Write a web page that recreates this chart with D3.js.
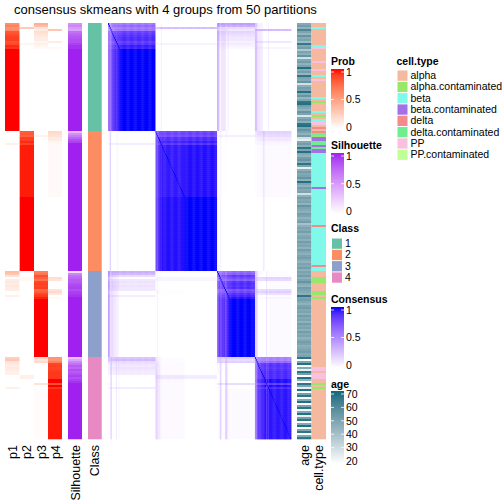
<!DOCTYPE html>
<html><head><meta charset="utf-8">
<script src="https://cdn.jsdelivr.net/npm/d3@7"></script>
<style>body{margin:0;background:#fff}svg{display:block}text{font-family:"Liberation Sans",Arial,sans-serif;fill:#000}</style>
</head><body><svg id="c" width="504" height="504"></svg>
<script>
// ---------------- data ----------------
const classSizes = [54, 70, 43, 41];
const classLabels = ["1", "2", "3", "4"];
const classColors = ["#66C2A5", "#FC8D62", "#8DA0CB", "#E78AC3"];
const probNames = ["p1", "p2", "p3", "p4"];

const p1 = [
 .58,.65,.57,.6,.82,.85,.88,.9,.9,.84,.87,.95,.93,1,1,1,1,1,1,1,1,1,1,1,1,1,1,1,1,1,1,1,1,1,1,1,1,1,1,1,1,1,1,1,1,1,1,1,1,1,1,1,1,1,
 0,0,0,0,0,0,.08,0,0,0,0,0,0,0,0,0,0,0,0,0,0,0,0,0,0,0,0,0,0,0,0,0,0,0,0,0,0,0,0,0,0,0,0,0,0,0,0,0,0,0,0,0,0,0,0,0,0,0,0,0,0,0,0,0,0,0,0,0,0,0,
 .35,.3,.15,0,.1,.12,.1,.12,.1,.1,0,0,.08,0,0,0,0,0,0,0,0,0,0,0,0,0,0,0,0,0,0,0,0,0,0,0,0,0,0,0,0,0,0,
 .25,.3,.15,.12,.1,.12,.1,.08,.08,0,0,0,0,0,0,.08,0,0,0,0,0,0,0,0,0,0,0,0,0,0,0,0,0,0,0,0,0,0,0,0,0];
const p2 = [
 0,0,.28,0,0,0,0,0,0,0,.05,0,0,0,0,0,0,0,0,0,0,0,0,0,0,0,0,0,0,0,0,0,0,0,0,0,0,0,0,0,0,0,0,0,0,0,0,0,0,0,0,0,0,0,
 .8,.82,.78,.9,.9,.95,.88,.975,.975,.975,.975,.975,.975,.975,.975,.975,.975,.975,.975,.975,.975,.975,.975,.975,.975,.975,.975,.975,.975,.975,.975,.975,.975,1,1,1,1,1,1,1,1,1,1,1,1,1,1,1,1,1,1,1,1,1,1,1,1,1,1,1,1,1,1,1,1,1,1,1,1,1,
 0,0,0,.04,.04,0,0,0,0,0,0,0,0,0,0,0,0,0,0,0,0,0,0,0,0,0,0,0,0,0,0,0,0,0,0,0,0,0,0,0,0,0,0,
 0,0,0,0,0,0,0,0,0,.08,.08,0,0,0,0,0,0,0,0,0,0,0,0,0,0,0,0,0,0,0,0,0,0,0,0,0,0,0,0,0,0];
const p3 = [
 .42,.35,.15,.1,.18,.15,.12,.1,.1,.06,.08,.05,.03,0,0,0,0,0,0,0,0,0,0,0,0,0,0,0,0,0,0,0,0,0,0,0,0,0,0,0,0,0,0,0,0,0,0,0,0,0,0,0,0,0,
 0,0,.07,0,0,0,0,0,0,0,0,0,0,0,0,0,0,0,0,0,0,0,0,0,0,0,0,0,0,0,0,0,0,0,0,0,0,0,0,0,0,0,0,0,0,0,0,0,0,0,0,0,0,0,0,0,0,0,0,0,0,0,0,0,0,0,0,0,0,0,
 .65,.7,.85,.78,.71,.88,.9,.88,.9,.75,.8,.88,.92,.97,1,1,1,1,1,1,1,1,1,1,1,1,1,1,1,1,1,1,1,1,1,1,1,1,1,1,1,1,1,
 .2,.15,.2,0,0,0,0,0,0,0,0,0,0,.15,0,0,.02,.02,.02,.02,.02,.02,.02,.02,.02,.02,.02,.02,.02,.02,.02,.02,.02,.02,.02,.02,.02,.02,.02,.02,.02];
const p4 = [
 0,0,0,.3,0,0,0,0,0,.1,0,0,.04,0,0,0,0,0,0,0,0,0,0,0,0,0,0,0,0,0,0,0,0,0,0,0,0,0,0,0,0,0,0,0,0,0,0,0,0,0,0,0,0,0,
 .2,.18,.15,.1,.1,.05,.04,.025,.025,.025,.025,.025,.025,.025,.025,.025,.025,.025,.025,.025,.025,.025,.025,.025,.025,.025,.025,.025,.025,.025,.025,.025,.025,0,0,0,0,0,0,0,0,0,0,0,0,0,0,0,0,0,0,0,0,0,0,0,0,0,0,0,0,0,0,0,0,0,0,0,0,0,
 0,0,0,.18,.15,0,0,0,0,.15,.2,.12,0,.03,0,0,0,0,0,0,0,0,0,0,0,0,0,0,0,0,0,0,0,0,0,0,0,0,0,0,0,0,0,
 .55,.55,.65,.88,.9,.88,.9,.92,.92,.92,.92,1,1,.85,1,.92,.98,.98,.98,.98,.98,.98,.98,.98,.98,.98,.98,.98,.98,.98,.98,.98,.98,.98,.98,.98,.98,.98,.98,.98,.98];
const silhouette = [
 .55,.6,.5,.45,.7,.75,.8,.82,.85,.85,.9,.95,.95,1,1,1,1,1,1,1,1,1,1,1,1,1,1,1,1,1,1,1,1,1,1,1,1,1,1,1,1,1,1,1,1,1,1,1,1,1,1,1,1,1,
 .35,.55,.65,.75,.85,.9,1,1,1,1,1,1,1,1,1,1,1,1,1,1,1,1,1,1,1,1,1,1,1,1,1,1,1,1,1,1,1,1,1,1,1,1,1,1,1,1,1,1,1,1,1,1,1,1,1,1,1,1,1,1,1,1,1,1,1,1,1,1,1,1,
 .15,.6,.7,.75,.8,.8,.85,.88,.9,.85,.9,.92,.95,1,1,1,1,1,1,1,1,1,1,1,1,1,1,1,1,1,1,1,1,1,1,1,1,1,1,1,1,1,1,
 .3,.45,.6,.7,.8,.75,.85,.8,.85,.9,.85,.9,.95,1,1,1,1,1,1,1,1,1,1,1,1,1,1,1,1,1,1,1,1,1,1,1,1,1,1,1,1];
const age = [
 48,52,45,60,50,44,55,47,50,42,65,48,52,38,50,46,55,30,48,52,45,50,68,47,52,44,66,50,48,55,30,46,52,50,68,48,55,44,50,66,68,52,48,45,55,50,28,48,52,46,66,68,50,55,
 50,45,52,30,25,48,52,46,66,50,68,48,45,52,55,48,66,50,25,46,52,48,50,55,46,68,50,45,52,48,50,30,46,52,48,50,45,55,50,48,46,52,50,45,48,52,40,46,50,48,52,45,48,50,46,52,48,50,45,52,48,46,50,52,48,45,50,48,52,46,
 50,48,52,46,50,55,48,45,52,50,48,46,66,50,52,48,45,50,52,48,50,46,52,48,50,45,52,48,50,46,52,48,50,45,48,52,50,46,48,50,52,48,50,
 66,20,50,68,22,48,25,66,52,20,68,45,22,66,50,25,68,20,52,66,22,48,68,20,50,66,22,48,68,25,52,66,20,48,68,22,50,66,20,48,66];
const cellTypeNames = ["alpha","alpha.contaminated","beta","beta.contaminated","delta","delta.contaminated","PP","PP.contaminated"];
const cellTypeColors = ["#F5B9A0","#97E86A","#80F8EA","#A470E8","#F28C8C","#70EE8E","#FAC0DF","#BFFF95"];
const cellType = [
 0,0,2,0,0,0,0,0,0,0,0,2,6,0,0,0,0,0,0,6,0,0,0,6,0,0,2,0,6,0,0,0,0,0,0,0,0,2,0,1,0,0,0,0,2,0,1,0,2,6,6,0,4,0,
 4,5,1,3,3,5,5,3,5,3,3,2,2,2,2,2,2,2,2,2,2,2,2,2,2,2,2,2,3,2,2,2,2,2,2,2,2,2,2,2,2,2,2,2,2,2,2,4,2,2,2,2,2,2,2,2,2,2,2,2,2,2,2,2,2,2,2,4,2,2,
 0,0,0,1,1,1,0,0,0,0,1,1,0,1,0,0,0,0,0,0,0,0,0,0,0,0,0,0,0,0,0,0,0,0,0,0,0,0,0,0,0,0,0,
 0,0,0,0,0,6,6,0,6,6,6,0,0,1,0,1,0,0,0,0,0,0,0,0,0,0,0,0,0,0,0,0,0,0,0,0,0,0,0,0,0];
const probTicks = [0, 0.5, 1];
const ageTicks = [20, 30, 40, 50, 60, 70];

// ---------------- derived ----------------
const N = p1.length;
const probs = [p1, p2, p3, p4];
const cls = [];
classSizes.forEach((n, k) => { for (let i = 0; i < n; i++) cls.push(k); });
const consensus = d3.range(N).map(i => d3.range(N).map(j =>
  i === j ? 1 : Math.min(1, d3.sum(probs, p => p[i] * p[j]))));

// ---------------- drawing ----------------
const svg = d3.select("#c");
const y = d3.scaleBand().domain(d3.range(N)).range([23, 439]);
const probCol = d3.scaleLinear().domain([0, 1]).range(["#FFFFFF", "#FF0000"]).interpolate(d3.interpolateLab);
const silCol = d3.scaleLinear().domain([0, 1]).range(["#FFFFFF", "#A020F0"]).interpolate(d3.interpolateLab);
const conCol = d3.scaleLinear().domain([0, 1]).range(["#FFFFFF", "#0000FF"]).interpolate(d3.interpolateLab);
const ageCol = d3.scaleLinear().domain([20, 70]).range(["#FFFFFF", "#0E6A7E"]).interpolate(d3.interpolateLab);
const ctCol = d3.scaleOrdinal().domain(d3.range(8)).range(cellTypeColors);
const clCol = d3.scaleOrdinal().domain(d3.range(4)).range(classColors);

svg.append("text").attr("x", 165.5).attr("y", 14).attr("text-anchor", "middle")
  .style("font-size", "13px").text("consensus skmeans with 4 groups from 50 partitions");

function column(x0, x1, values, color, label) {
  const g = svg.append("g");
  g.selectAll("rect").data(values).join("rect")
    .attr("x", x0).attr("width", x1 - x0)
    .attr("y", (d, i) => y(i)).attr("height", y.bandwidth() + 0.3)
    .attr("fill", d => color(d));
  svg.append("text").attr("transform", `translate(${(x0 + x1) / 2 + 4.5},445) rotate(-90)`)
    .attr("text-anchor", "end").style("font-size", "12.5px").text(label);
}
const pX = [5, 19.7, 34, 48, 62];
probs.forEach((p, k) => column(pX[k], pX[k + 1], p, probCol, probNames[k]));
column(68, 82, silhouette, silCol, "Silhouette");
column(88, 101.7, cls, clCol, "Class");
column(297, 311.5, age, ageCol, "age");
column(311.5, 326, cellType, ctCol, "cell.type");

// consensus matrix
const x = d3.scaleBand().domain(d3.range(N)).range([108, 291]);
const cg = svg.append("g");
consensus.forEach((row, i) => {
  cg.append("g").selectAll("rect").data(row).join("rect")
    .attr("x", (d, j) => x(j)).attr("width", x.bandwidth() + 0.4)
    .attr("y", y(i)).attr("height", y.bandwidth() + 0.3)
    .attr("fill", d => conCol(d));
});

// ---------------- legends ----------------
function gradLegend(id, title, tTop, barTop, v0, v1, pos0, pos1, barBot, ticks, color, fmt) {
  svg.append("text").attr("x", 331).attr("y", tTop).style("font-size", "10.5px").style("font-weight", "bold").text(title);
  const grad = svg.append("defs").append("linearGradient").attr("id", id)
    .attr("x1", 0).attr("y1", 1).attr("x2", 0).attr("y2", 0);
  d3.range(11).forEach(k => grad.append("stop").attr("offset", k / 10).attr("stop-color", color(v0 + (v1 - v0) * k / 10)));
  svg.append("rect").attr("x", 331).attr("y", barTop).attr("width", 13).attr("height", barBot - barTop).attr("fill", `url(#${id})`);
  const s = d3.scaleLinear().domain([v0, v1]).range([pos0, pos1]);
  ticks.forEach(t => {
    [[331, 334], [341, 344]].forEach(([a, b]) => svg.append("line").attr("x1", a).attr("x2", b)
      .attr("y1", s(t)).attr("y2", s(t)).attr("stroke", "#fff").attr("stroke-width", 0.8));
    svg.append("text").attr("x", 346).attr("y", s(t) + 3.8).style("font-size", "10.5px").text(fmt(t));
  });
}
const fmtP = d => d === 0.5 ? "0.5" : String(d);
gradLegend("gp", "Prob", 65, 69, 0, 1, 127, 72, 129, probTicks, probCol, fmtP);
gradLegend("gs", "Silhouette", 149, 153, 0, 1, 211.5, 156, 214, probTicks, silCol, fmtP);
gradLegend("gc", "Consensus", 303, 307, 0, 1, 365, 310, 368, probTicks, conCol, fmtP);
gradLegend("ga", "age", 388, 391, 20, 70, 461, 394, 464, ageTicks, ageCol, d => String(d));

function discLegend(x0, title, tY, top, labels, colors) {
  svg.append("text").attr("x", x0).attr("y", tY).style("font-size", "10.5px").style("font-weight", "bold").text(title);
  labels.forEach((l, k) => {
    svg.append("rect").attr("x", x0 + 1).attr("y", top + k * 11.3 + 0.5).attr("width", 10).attr("height", 10.3)
      .attr("fill", colors[k]);
    svg.append("text").attr("x", x0 + 14).attr("y", top + k * 11.3 + 9).style("font-size", "10.5px").text(l);
  });
}
discLegend(331, "Class", 232, 238, classLabels, classColors);
discLegend(396.5, "cell.type", 65, 70, cellTypeNames, cellTypeColors);
</script></body></html>
